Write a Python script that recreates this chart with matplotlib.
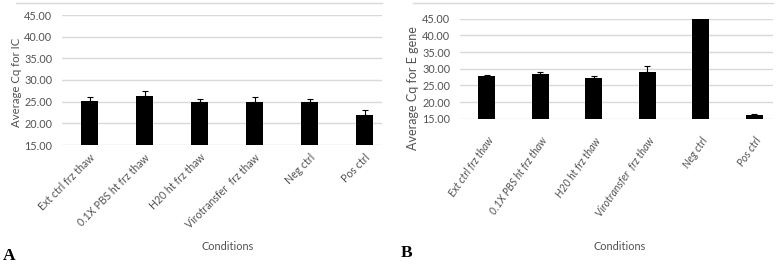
import numpy as np
import matplotlib
matplotlib.use("Agg")
from matplotlib import pyplot as plt
from matplotlib.lines import Line2D

# data
conditions = ["Ext ctrl frz thaw", "0.1X PBS ht frz thaw", "H20 ht frz thaw",
              "Virotransfer  frz thaw", "Neg ctrl", "Pos ctrl"]
cq_ic = [25.2, 26.4, 24.9, 25.0, 24.9, 21.9]
cq_ic_err = [0.8, 1.1, 0.8, 1.0, 0.8, 1.1]
cq_egene = [27.9, 28.3, 27.1, 28.9, 45.0, 16.0]
cq_egene_err = [0.3, 0.6, 0.6, 1.8, 0.0, 0.3]
yticks = [15, 20, 25, 30, 35, 40, 45]

plt.rcParams['font.family'] = ['Lato', 'DejaVu Sans']
gray = '#525252'
grid = '#d9d9d9'

W, H = 778, 264
fig = plt.figure(figsize=(W / 100, H / 100), dpi=100)


def px_axes(x0, x1, ytop, ybot):
    return fig.add_axes([x0 / W, 1 - ybot / H, (x1 - x0) / W, (ybot - ytop) / H])


def draw_panel(ax, values, errs, spacing, barw, italic, rot):
    x = np.arange(len(values))
    ax.bar(x, [v - 15 for v in values], bottom=15, width=barw, color='black', zorder=3)
    err = [[0] * len(errs), errs]
    mask = [e > 0 for e in errs]
    xe = x[mask]
    ax.errorbar(xe, np.array(values)[mask], yerr=np.array(err)[:, mask], fmt='none',
                ecolor='black', elinewidth=0.8, capsize=2.5, capthick=0.8, zorder=4)
    ax.set_ylim(15, 45)
    ax.set_yticks(yticks)
    ax.set_yticklabels(["%.2f" % t for t in yticks])
    ax.yaxis.grid(True, color=grid, linewidth=1)
    ax.set_axisbelow(True)
    for s in ax.spines.values():
        s.set_visible(False)
    ax.tick_params(axis='y', length=0, pad=7, labelcolor=gray, labelsize=7.8)
    ax.tick_params(axis='x', length=0)
    ax.set_xticks(x)
    ax.set_xticklabels(conditions, rotation=rot, ha='right', va='top',
                       rotation_mode='anchor', color=gray, fontsize=7.6,
                       style='italic' if italic else 'normal')
    ax.set_xlim(-0.5, spacing)


# panel A
axA = px_axes(62, 382, 15, 145)
draw_panel(axA, cq_ic, cq_ic_err, -0.5 + 320 / 55, 17 / 55, False, 45)
axA.tick_params(axis='x', pad=5)
axA.set_ylabel("Average Cq for IC", color=gray, fontsize=8.2)
axA.yaxis.set_label_coords(-0.125, 0.48)

# panel B
axB = px_axes(460, 773, 18.7, 118.7)
draw_panel(axB, cq_egene, cq_egene_err, -0.5 + 313 / 53.5, 17 / 53.5, True, 55)
axB.tick_params(axis='x', pad=12)
axB.set_ylabel("Average Cq for E gene", color=gray, fontsize=9)
axB.yaxis.set_label_coords(-0.13, 0.31)

fig.text(228 / W, 1 - 247 / H, "Conditions", color=gray, fontsize=7.8, ha='center', va='center')
fig.text(620 / W, 1 - 246 / H, "Conditions", color=gray, fontsize=7.8, ha='center', va='center')

fig.text(3 / W, 1 - 260 / H, "A", family='Liberation Serif', weight='bold', fontsize=12.5,
         ha='left', va='baseline')
fig.text(401 / W, 1 - 257 / H, "B", family='Liberation Serif', weight='bold', fontsize=12.5,
         ha='left', va='baseline')

# thin chart-area borders at the top
fig.add_artist(Line2D([16 / W, 382 / W], [1 - 3.3 / H] * 2, color=grid, linewidth=1))
fig.add_artist(Line2D([413 / W, 773 / W], [1 - 3.3 / H] * 2, color=grid, linewidth=1))

fig.savefig("out.png", dpi=100)
